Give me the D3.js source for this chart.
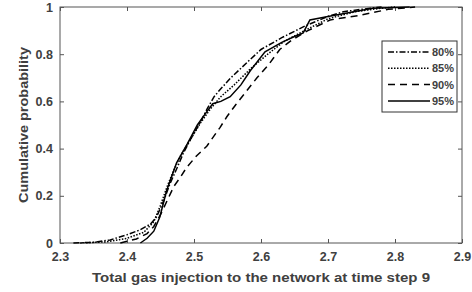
<!DOCTYPE html>
<html><head><meta charset="utf-8">
<script src="https://cdn.jsdelivr.net/npm/d3@7"></script>
<style>body{margin:0;background:#fff}svg{display:block}</style>
</head><body>
<script>
const xTicks = [2.3, 2.4, 2.5, 2.6, 2.7, 2.8, 2.9];
const yTicks = [0, 0.2, 0.4, 0.6, 0.8, 1];
const seriesNames = ["80%", "85%", "90%", "95%"];

const x80 = [2.32, 2.35, 2.375, 2.40, 2.419, 2.435, 2.444, 2.455, 2.464, 2.475, 2.484, 2.495, 2.509, 2.52, 2.53, 2.539, 2.555, 2.581, 2.60, 2.631, 2.666, 2.70, 2.723, 2.763, 2.78];
const p80 = [0, 0.003, 0.013, 0.035, 0.055, 0.08, 0.11, 0.18, 0.25, 0.32, 0.38, 0.44, 0.51, 0.57, 0.62, 0.65, 0.70, 0.77, 0.82, 0.87, 0.92, 0.96, 0.98, 0.995, 1];

const x85 = [2.33, 2.37, 2.40, 2.425, 2.44, 2.45, 2.46, 2.47, 2.48, 2.495, 2.51, 2.525, 2.54, 2.56, 2.585, 2.61, 2.635, 2.665, 2.70, 2.74, 2.78, 2.80];
const p85 = [0, 0.005, 0.02, 0.045, 0.09, 0.16, 0.24, 0.31, 0.37, 0.44, 0.51, 0.57, 0.62, 0.67, 0.74, 0.80, 0.855, 0.90, 0.95, 0.98, 0.995, 1];

const x90 = [2.39, 2.414, 2.43, 2.44, 2.45, 2.46, 2.47, 2.48, 2.489, 2.504, 2.519, 2.539, 2.549, 2.562, 2.576, 2.594, 2.611, 2.628, 2.646, 2.67, 2.703, 2.748, 2.79, 2.83];
const p90 = [0, 0.017, 0.04, 0.07, 0.12, 0.18, 0.24, 0.28, 0.32, 0.37, 0.41, 0.49, 0.535, 0.585, 0.635, 0.70, 0.754, 0.82, 0.86, 0.90, 0.945, 0.965, 0.99, 1];

const x95 = [2.42, 2.43, 2.44, 2.449, 2.459, 2.474, 2.49, 2.505, 2.52, 2.528, 2.54, 2.554, 2.57, 2.584, 2.606, 2.631, 2.65, 2.663, 2.673, 2.70, 2.767, 2.822];
const p95 = [0, 0.02, 0.05, 0.11, 0.22, 0.34, 0.42, 0.50, 0.56, 0.59, 0.60, 0.62, 0.67, 0.73, 0.81, 0.85, 0.875, 0.89, 0.945, 0.96, 0.995, 1.0];

const dashes = ["6,2,1.5,2", "1.5,1.5", "7,5", null];

const W = 472, H = 292;
const m = {l: 60, r: 10, t: 7, b: 49};
const svg = d3.select("body").append("svg").attr("width", W).attr("height", H)
  .style("font-family", "Arial, 'Liberation Sans', sans-serif");

const x = d3.scaleLinear().domain([2.3, 2.9]).range([m.l, W - m.r]);
const y = d3.scaleLinear().domain([0, 1]).range([H - m.b, m.t]);
const axisCol = "#555", txtCol = "#404040";

svg.append("rect").attr("x", x(2.3)).attr("y", y(1)).attr("width", x(2.9) - x(2.3)).attr("height", y(0) - y(1))
  .attr("fill", "none").attr("stroke", axisCol).attr("stroke-width", 1);

const gx = svg.append("g").attr("transform", `translate(0,${y(0)})`)
  .call(d3.axisBottom(x).tickValues(xTicks).tickSize(-4).tickPadding(9).tickFormat(d3.format(".1f")));
const gxt = svg.append("g").attr("transform", `translate(0,${y(1)})`)
  .call(d3.axisTop(x).tickValues(xTicks).tickSize(-4).tickFormat(""));
const gy = svg.append("g").attr("transform", `translate(${x(2.3)},0)`)
  .call(d3.axisLeft(y).tickValues(yTicks).tickSize(-4).tickPadding(7).tickFormat(d => d === 0 || d === 1 ? d : d3.format(".1f")(d)));
const gyr = svg.append("g").attr("transform", `translate(${x(2.9)},0)`)
  .call(d3.axisRight(y).tickValues(yTicks).tickSize(-4).tickFormat(""));
[gx, gxt, gy, gyr].forEach(g => {
  g.select(".domain").remove();
  g.selectAll(".tick line").attr("stroke", axisCol);
  g.selectAll("text").attr("fill", txtCol).style("font-size", "12.5px").style("font-weight", "bold");
});

const xs = [x80, x85, x90, x95], ps = [p80, p85, p90, p95];
const line = d3.line().x(d => x(d[0])).y(d => y(d[1]));
xs.forEach((xa, i) => {
  const pts = xa.map((v, j) => [v, ps[i][j]]);
  svg.append("path").datum(pts).attr("d", line).attr("fill", "none")
    .attr("stroke", "#000").attr("stroke-width", 1.5)
    .attr("stroke-dasharray", dashes[i]);
});

svg.append("text").attr("x", 261).attr("y", 282).attr("text-anchor", "middle")
  .attr("fill", txtCol).style("font-size", "13.5px").style("font-weight", "bold")
  .attr("textLength", 338).attr("lengthAdjust", "spacingAndGlyphs")
  .text("Total gas injection to the network at time step 9");
svg.append("text").attr("transform", `translate(28,125) rotate(-90)`).attr("text-anchor", "middle")
  .attr("fill", txtCol).style("font-size", "13.5px").style("font-weight", "bold")
  .attr("textLength", 156).attr("lengthAdjust", "spacingAndGlyphs")
  .text("Cumulative probability");

const lg = svg.append("g");
lg.append("rect").attr("x", 382).attr("y", 41).attr("width", 75).attr("height", 71)
  .attr("fill", "#fff").attr("stroke", "#333").attr("stroke-width", 1);
seriesNames.forEach((n, i) => {
  const yy = 52 + i * 16.3;
  lg.append("line").attr("x1", 388).attr("x2", 430).attr("y1", yy).attr("y2", yy)
    .attr("stroke", "#000").attr("stroke-width", 1.5).attr("stroke-dasharray", dashes[i]);
  lg.append("text").attr("x", 432).attr("y", yy + 4).attr("fill", txtCol)
    .style("font-size", "11px").style("font-weight", "bold").text(n);
});
</script>
</body></html>
